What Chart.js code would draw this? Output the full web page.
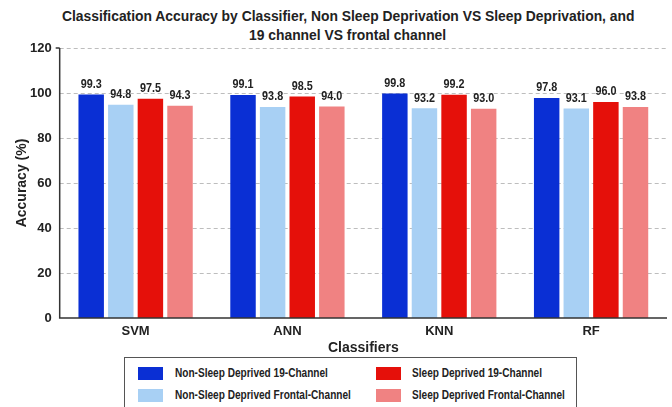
<!DOCTYPE html>
<html>
<head>
<meta charset="utf-8">
<script src="https://cdn.jsdelivr.net/npm/chart.js@4/dist/chart.umd.min.js"></script>
<style>
  html, body { margin: 0; padding: 0; background: #fff; overflow: hidden; }
  body { width: 672px; height: 407px; position: relative; font-family: "Liberation Sans", Arial, sans-serif; color: #222; }
  #wrap { position: absolute; left: 0; top: 0; width: 672px; height: 356px; }
  .title {
    position: absolute; left: 0; top: 7px; width: 672px; text-align: center; padding-left: 24px; box-sizing: border-box;
    font-weight: bold; font-size: 14px; line-height: 19px;
  }
  .title span { display: inline-block; transform: scaleX(0.99); white-space: nowrap; }
  .legend {
    position: absolute; left: 124px; top: 357px; width: 453px; height: 60px;
    border: 1px solid #555; box-sizing: border-box; background: #fff;
    font-weight: bold; font-size: 12px;
  }
  .legend .sw { position: absolute; width: 25px; height: 13px; }
  .legend .txt { position: absolute; white-space: nowrap; transform-origin: left center; transform: scaleX(0.84); line-height: 13px; }
</style>
</head>
<body>
<div class="title"><span>Classification Accuracy by Classifier, Non Sleep Deprivation VS Sleep Deprivation, and</span><br><span>19 channel VS frontal channel</span></div>
<div id="wrap"><canvas id="chart"></canvas></div>
<div class="legend" id="legend"></div>
<script>
const CATEGORIES   = ['SVM', 'ANN', 'KNN', 'RF'];
const SERIES_NAMES = ['Non-Sleep Deprived 19-Channel', 'Non-Sleep Deprived Frontal-Channel', 'Sleep Deprived 19-Channel', 'Sleep Deprived Frontal-Channel'];
const NSD_19       = [99.3, 99.1, 99.8, 97.8];
const NSD_FRONTAL  = [94.8, 93.8, 93.2, 93.1];
const SD_19        = [97.5, 98.5, 99.2, 96.0];
const SD_FRONTAL   = [94.3, 94.0, 93.0, 93.8];
const Y_TICKS      = [0, 20, 40, 60, 80, 100, 120];

const COLORS = ['#0a2fd4', '#a8d0f4', '#e5100a', '#f08282'];
const FONT   = '"Liberation Sans", Arial, sans-serif';
const NONE   = 'rgba(0,0,0,0)';

// dashed gridlines, axis lines and axis titles, placed from the chart area
const axesLines = {
  id: 'axesLines',
  beforeDatasetsDraw(chart) {
    const { ctx, chartArea: a, scales: { y } } = chart;
    ctx.save();
    ctx.strokeStyle = '#bdbdbd';
    ctx.lineWidth = 1;
    ctx.setLineDash([4, 3]);
    Y_TICKS.filter(v => v > 0).forEach(v => {
      const py = Math.round(y.getPixelForValue(v)) + 0.5;
      ctx.beginPath(); ctx.moveTo(a.left, py); ctx.lineTo(a.right - 1, py); ctx.stroke();
    });
    ctx.restore();
  },
  afterDatasetsDraw(chart) {
    const { ctx, chartArea: a } = chart;
    ctx.save();
    ctx.strokeStyle = '#333';
    ctx.lineWidth = 1.5;
    ctx.beginPath();
    ctx.moveTo(a.left, a.top); ctx.lineTo(a.left, a.bottom); ctx.lineTo(a.right, a.bottom);
    ctx.stroke();
    ctx.beginPath(); ctx.moveTo(a.left - 4, a.top); ctx.lineTo(a.left, a.top); ctx.stroke();
    ctx.font = `bold 14px ${FONT}`;
    ctx.fillStyle = '#222';
    ctx.textAlign = 'center';
    ctx.textBaseline = 'middle';
    ctx.fillText('Classifiers', (a.left + a.right) / 2, a.bottom + 30);
    ctx.translate(22, (a.top + a.bottom) / 2);
    ctx.rotate(-Math.PI / 2);
    ctx.fillText('Accuracy (%)', 0, 0);
    ctx.restore();
  },
  afterDraw(chart) {
    // keep the right side of the plot open
    const { ctx, chartArea: a } = chart;
    ctx.save();
    ctx.fillStyle = '#fff';
    ctx.fillRect(a.right - 1, a.top - 2, 8, a.bottom - a.top);
    ctx.restore();
  },
};

const valueLabels = {
  id: 'valueLabels',
  afterDatasetsDraw(chart) {
    const ctx = chart.ctx;
    ctx.save();
    ctx.font = `bold 12px ${FONT}`;
    ctx.fillStyle = '#222';
    ctx.textAlign = 'center';
    ctx.textBaseline = 'bottom';
    chart.data.datasets.forEach((ds, i) => {
      chart.getDatasetMeta(i).data.forEach((bar, j) => {
        // slightly condensed, like the original font
        ctx.save();
        ctx.translate(bar.x, bar.y - 4);
        ctx.scale(0.9, 1);
        ctx.fillText(ds.data[j].toFixed(1), 0, 0);
        ctx.restore();
      });
    });
    ctx.restore();
  },
};

const seriesData = [NSD_19, NSD_FRONTAL, SD_19, SD_FRONTAL];

new Chart(document.getElementById('chart'), {
  type: 'bar',
  data: {
    labels: CATEGORIES,
    datasets: seriesData.map((d, i) => ({
      label: SERIES_NAMES[i], data: d, backgroundColor: COLORS[i], borderWidth: 0,
      categoryPercentage: 0.78, barPercentage: 0.86,
    })),
  },
  options: {
    responsive: true, maintainAspectRatio: false, animation: false,
    layout: { padding: { left: 22, right: 5, top: 48, bottom: 11 } },
    plugins: {
      legend: { display: false },
      tooltip: { enabled: false },
    },
    scales: {
      x: {
        grid: { display: false, drawTicks: false, tickLength: 0, color: NONE },
        border: { display: false, color: NONE },
        ticks: { color: '#222', font: { family: FONT, size: 13, weight: 'bold', lineHeight: 1 }, padding: 7 },
      },
      y: {
        min: 0, max: 120,
        afterBuildTicks: axis => { axis.ticks = Y_TICKS.map(v => ({ value: v })); },
        grid: { display: false, drawTicks: false, color: NONE },
        border: { display: false, color: NONE },
        ticks: { color: '#222', font: { family: FONT, size: 13, weight: 'bold' }, padding: 8 },
      },
    },
  },
  plugins: [axesLines, valueLabels],
});

// legend box below the chart, two columns
const legend = document.getElementById('legend');
const swatchPos = [[13, 9], [13, 31], [251, 9], [251, 31]];
const textPos   = [[50, 9], [50, 31], [287, 9], [287, 31]];
SERIES_NAMES.forEach((name, i) => {
  const sw = document.createElement('span');
  sw.className = 'sw';
  sw.style.left = swatchPos[i][0] + 'px';
  sw.style.top = swatchPos[i][1] + 'px';
  sw.style.background = COLORS[i];
  legend.appendChild(sw);
  const tx = document.createElement('span');
  tx.className = 'txt';
  tx.style.left = textPos[i][0] + 'px';
  tx.style.top = textPos[i][1] + 'px';
  tx.textContent = name;
  legend.appendChild(tx);
});
</script>
</body>
</html>
